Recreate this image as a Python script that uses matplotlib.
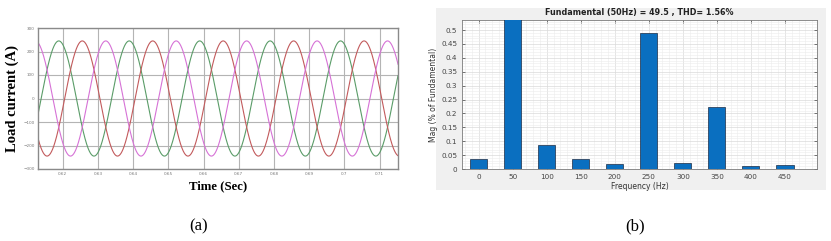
"""
Load current waveform (a) and harmonic spectrum (b)
Output: out.png
"""
import matplotlib
matplotlib.use('Agg')
import matplotlib.pyplot as plt
import matplotlib.patches as mpatches
from matplotlib.ticker import MultipleLocator
import numpy as np

# ── data ────────────────────────────────────────────────────────────────── #
# three-phase load current
amp_a      = 245.0                       # peak amplitude (A)
freq_a     = 50.0                        # Hz
peak_times = [0.6189, 0.62557, 0.63223]  # first peak of green / red / magenta
phase_cols = ['#5a9c68', '#c25a5c', '#d672d6']
t_start, t_end = 0.613, 0.7152
time_ticks = [0.62, 0.63, 0.64, 0.65, 0.66, 0.67, 0.68, 0.69, 0.70, 0.71]
time_labels = ['0.62', '0.63', '0.64', '0.65', '0.66', '0.67', '0.68', '0.69', '0.7', '0.71']
cur_ticks = [-300, -200, -100, 0, 100, 200, 300]

# FFT spectrum (% of fundamental)
harm_freq = [0, 50, 100, 150, 200, 250, 300, 350, 400, 450]
harm_mag  = [0.035, 100.0, 0.087, 0.037, 0.018, 0.488, 0.022, 0.222, 0.011, 0.014]
mag_ticks = [0, 0.05, 0.1, 0.15, 0.2, 0.25, 0.3, 0.35, 0.4, 0.45, 0.5]

# ── figure ──────────────────────────────────────────────────────────────── #
W, H = 831, 241
fig = plt.figure(figsize=(W / 100, H / 100), dpi=100)
fig.patch.set_facecolor('white')

def fbox(x0, y0, x1, y1):
    # pixel box (top-left origin) -> figure fraction rect
    return [x0 / W, 1 - y1 / H, (x1 - x0) / W, (y1 - y0) / H]

serif = ['Liberation Serif', 'DejaVu Serif']

# ── (a) waveform ────────────────────────────────────────────────────────── #
ax1 = fig.add_axes(fbox(38, 28, 398, 169))
t = np.linspace(t_start, t_end, 3000)
for tp, c in zip(peak_times, phase_cols):
    ax1.plot(t, amp_a * np.cos(2 * np.pi * freq_a * (t - tp)), color=c, lw=0.8)

ax1.set_xlim(t_start, t_end)
ax1.set_ylim(-300, 300)
ax1.set_xticks(time_ticks)
ax1.set_xticklabels(time_labels)
ax1.set_yticks(cur_ticks)
ax1.tick_params(labelsize=3, colors='#777777', length=0, pad=2.5)
ax1.grid(True, color='#b4b4b4', lw=0.8)
ax1.set_axisbelow(True)
for s in ax1.spines.values():
    s.set_color('#8a8a8a')
    s.set_linewidth(1.0)
ax1.set_ylabel('Load current (A)', family=serif, fontweight='bold',
               fontsize=10.5, labelpad=3)
ax1.set_xlabel('Time (Sec)', family=serif, fontweight='bold',
               fontsize=9.2, labelpad=2.5)

fig.text(199 / W, 1 - 226 / H, '(a)', family=serif, fontsize=12,
         ha='center', va='center')

# ── (b) spectrum ────────────────────────────────────────────────────────── #
panel = mpatches.Rectangle((436 / W, 1 - 190 / H), 390 / W, 182 / H,
                           transform=fig.transFigure, facecolor='#f0f0f0',
                           edgecolor='none', zorder=-1)
fig.add_artist(panel)

ax2 = fig.add_axes(fbox(462, 20, 817, 169))
ax2.set_zorder(1)
ax2.bar(harm_freq, harm_mag, width=25, color='#0a6fc0',
        edgecolor='#1c2c44', linewidth=0.5, zorder=3)
ax2.set_xlim(-24.5, 497)
ax2.set_ylim(0, 0.536)
ax2.set_xticks(harm_freq)
ax2.set_yticks(mag_ticks)
ax2.set_yticklabels(['0', '0.05', '0.1', '0.15', '0.2', '0.25', '0.3',
                     '0.35', '0.4', '0.45', '0.5'])
ax2.xaxis.set_minor_locator(MultipleLocator(10))
ax2.yaxis.set_minor_locator(MultipleLocator(0.01))
ax2.tick_params(which='both', direction='in', top=True, right=True,
                labelsize=5.2, colors='#444444')
ax2.tick_params(which='major', length=2.5, width=0.5)
ax2.tick_params(which='minor', length=0)
ax2.grid(True, which='major', color='#dadada', lw=0.5)
ax2.grid(True, which='minor', color='#ececec', lw=0.4)
ax2.set_axisbelow(True)
ax2.set_facecolor('white')
for s in ax2.spines.values():
    s.set_color('#7a7a7a')
    s.set_linewidth(0.6)
ax2.set_title('Fundamental (50Hz) = 49.5 , THD= 1.56%', fontsize=5.8,
              fontweight='bold', pad=3.5, color='#222222')
ax2.set_xlabel('Frequency (Hz)', fontsize=5.5, labelpad=1.5, color='#333333')
ax2.set_ylabel('Mag (% of Fundamental)', fontsize=5.5, labelpad=2, color='#333333')

fig.text(635 / W, 1 - 226 / H, '(b)', family=serif, fontsize=12,
         ha='center', va='center')

fig.savefig('out.png', dpi=100)
